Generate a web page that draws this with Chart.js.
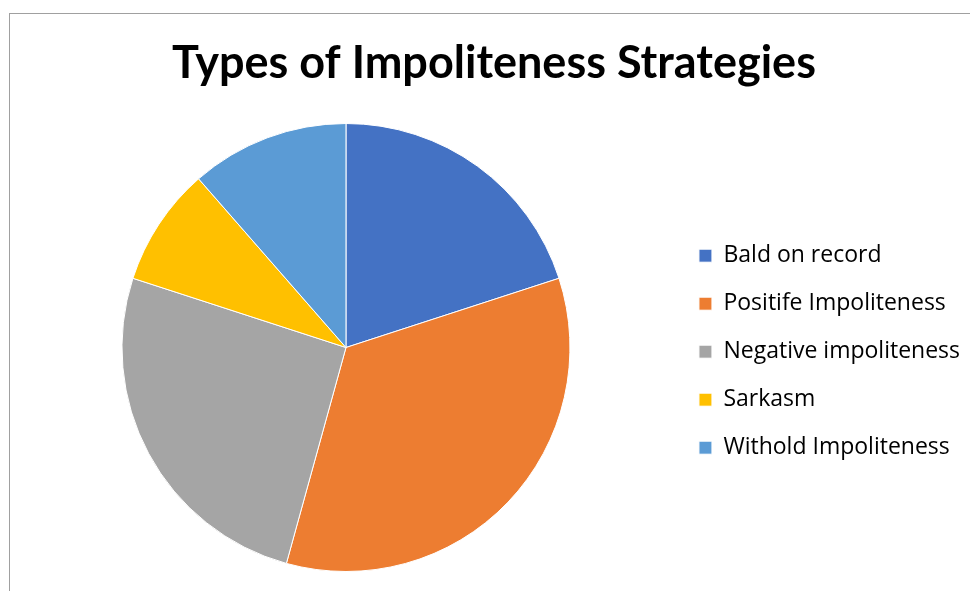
<!DOCTYPE html>
<html>
<head>
<meta charset="utf-8">
<script src="https://cdn.jsdelivr.net/npm/chart.js@4.4.0/dist/chart.umd.min.js"></script>
<style>
  html, body { margin: 0; padding: 0; background: #fff; overflow: hidden; }
  #frame {
    position: absolute; left: 9px; top: 13px;
    width: 1000px; height: 600px;
    border: 1px solid #a0a0a0;
  }
  #wrap { position: absolute; left: 0; top: 0; width: 970px; height: 591px; }
</style>
</head>
<body>
<div id="frame"></div>
<div id="wrap"><canvas id="chart"></canvas></div>
<script>
const labels = ['Bald on record', 'Positife Impoliteness', 'Negative impoliteness', 'Sarkasm', 'Withold Impoliteness'];
const counts = [7, 12, 9, 3, 4];
const colors = ['#4472C4', '#ED7D31', '#A5A5A5', '#FFC000', '#5B9BD5'];

new Chart(document.getElementById('chart'), {
    type: 'pie',
    data: {
        labels: labels,
        datasets: [{
            data: counts,
            backgroundColor: colors,
            borderColor: '#ffffff',
            borderWidth: 1
        }]
    },
    options: {
        responsive: true,
        maintainAspectRatio: false,
        animation: false,
        layout: {
            padding: { left: 18, right: 0, top: 0, bottom: 19 }
        },
        plugins: {
            title: {
                display: true,
                text: 'Types of Impoliteness Strategies',
                color: '#000000',
                font: { family: 'Lato', size: 45, weight: 'bold' },
                padding: { top: 36, bottom: 33 }
            },
            legend: {
                position: 'right',
                fullSize: false,
                title: {
                    display: true,
                    text: ' ',
                    font: { size: 7 },
                    padding: 0
                },
                labels: {
                    color: '#000000',
                    font: { family: 'Open Sans', size: 23 },
                    boxWidth: 13,
                    boxHeight: 13,
                    padding: 25
                }
            },
            tooltip: { enabled: false }
        }
    }
});
</script>
</body>
</html>
